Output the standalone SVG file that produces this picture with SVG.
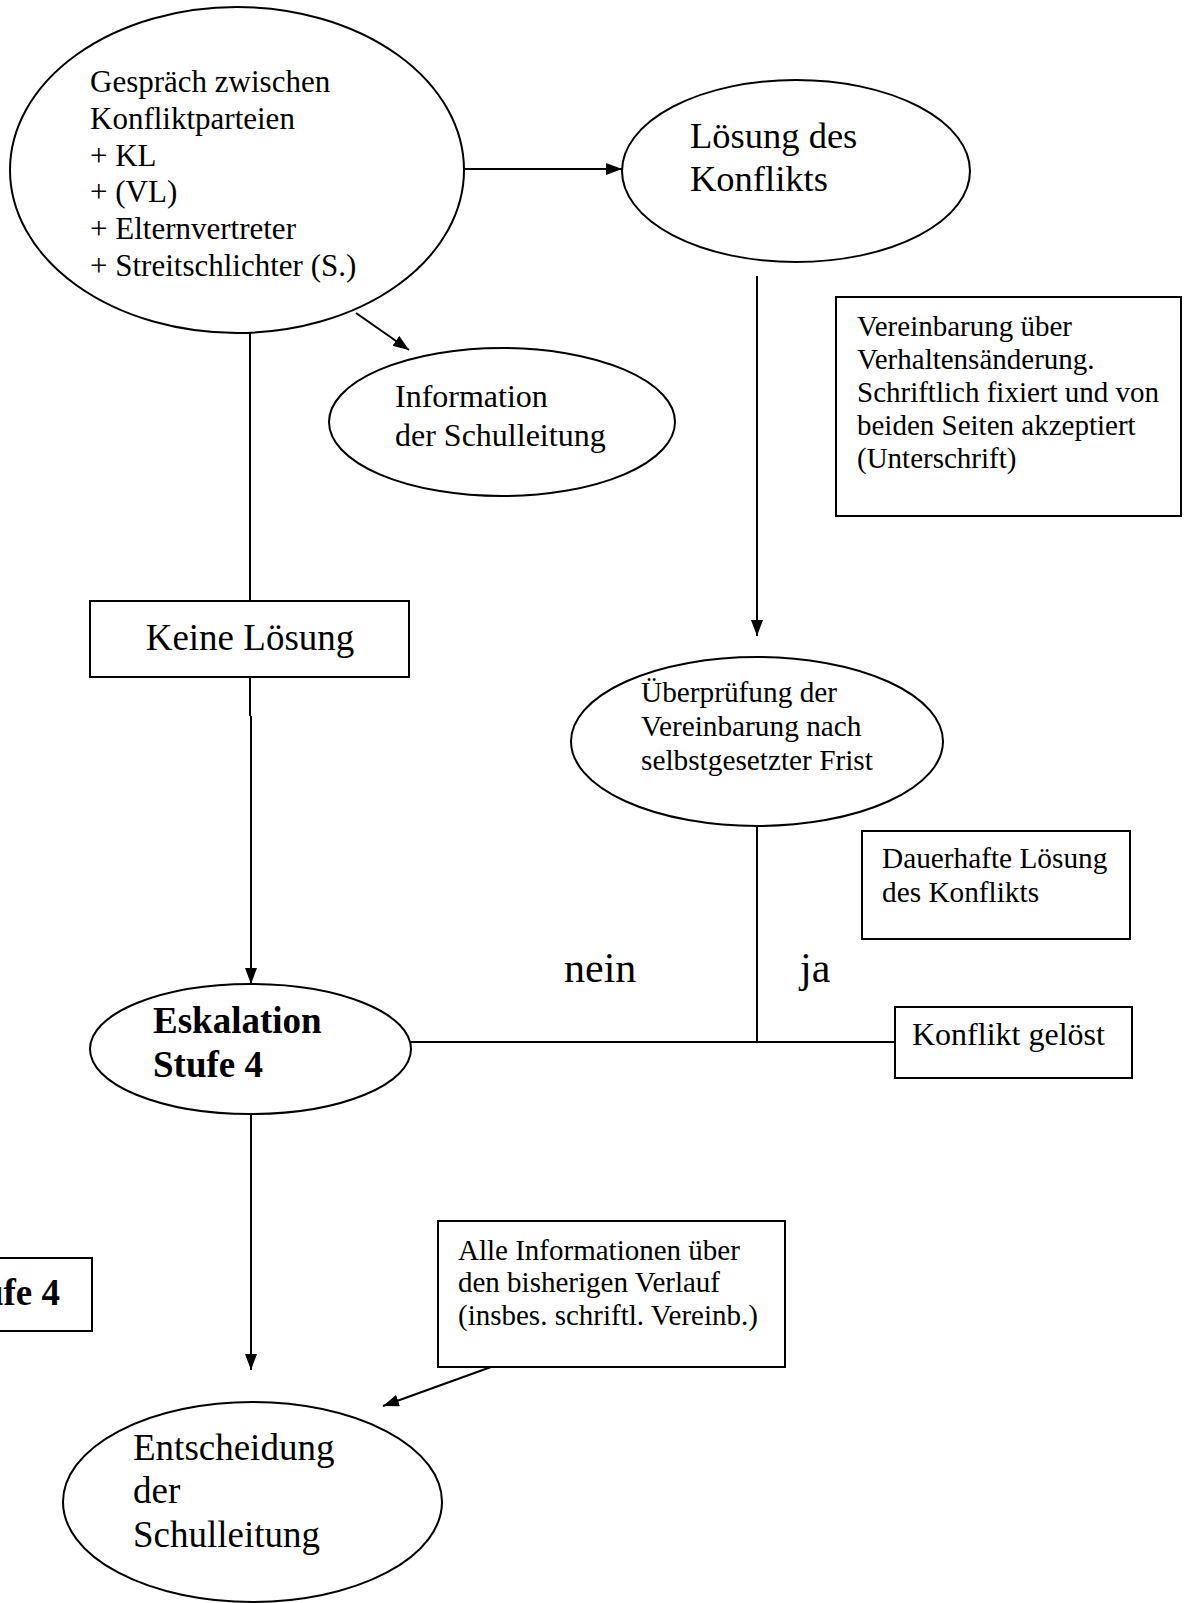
<svg xmlns="http://www.w3.org/2000/svg" width="1184" height="1603" viewBox="0 0 1184 1603">
<defs>
<marker id="arr" viewBox="0 0 16 12" refX="16" refY="6" markerWidth="16" markerHeight="12" markerUnits="userSpaceOnUse" orient="auto"><path d="M0,0 L16,6 L0,12 z" fill="#000"/></marker>
</defs>
<style>
.s{fill:#fff;stroke:#000;stroke-width:2}
.c{fill:none;stroke:#000;stroke-width:2}
text{font-family:"Liberation Serif","Times New Roman",serif;fill:#000}
.b{font-weight:bold}
</style>
<rect width="1184" height="1603" fill="#fff"/>
<g id="connectors">
<line class="c" x1="464" y1="169" x2="622" y2="169" marker-end="url(#arr)"/>
<line class="c" x1="356" y1="313" x2="409" y2="350" marker-end="url(#arr)"/>
<line class="c" x1="250" y1="333" x2="250" y2="601"/>
<line class="c" x1="250" y1="677" x2="250" y2="716"/>
<line class="c" x1="251" y1="716" x2="251" y2="984" marker-end="url(#arr)"/>
<line class="c" x1="757" y1="276" x2="757" y2="636" marker-end="url(#arr)"/>
<line class="c" x1="757" y1="826" x2="757" y2="1042"/>
<line class="c" x1="411" y1="1042" x2="895" y2="1042"/>
<line class="c" x1="251" y1="1115" x2="251" y2="1370" marker-end="url(#arr)"/>
<line class="c" x1="491" y1="1367" x2="383" y2="1406" marker-end="url(#arr)"/>
</g>
<g id="gespraech">
<ellipse class="s" cx="237" cy="170" rx="227" ry="163"/>
<text font-size="31"><tspan x="90" y="92">Gespräch zwischen</tspan><tspan x="90" y="129">Konfliktparteien</tspan><tspan x="90" y="166">+ KL</tspan><tspan x="90" y="202">+ (VL)</tspan><tspan x="90" y="239">+ Elternvertreter</tspan><tspan x="90" y="276">+ Streitschlichter (S.)</tspan></text>
</g>
<g id="loesung">
<ellipse class="s" cx="796" cy="171" rx="174" ry="91"/>
<text font-size="36.5"><tspan x="690" y="148">Lösung des</tspan><tspan x="690" y="191">Konflikts</tspan></text>
</g>
<g id="vereinbarung">
<rect class="s" x="836" y="297" width="345" height="219"/>
<text font-size="29"><tspan x="857" y="336">Vereinbarung über</tspan><tspan x="857" y="369">Verhaltensänderung.</tspan><tspan x="857" y="402">Schriftlich fixiert und von</tspan><tspan x="857" y="435">beiden Seiten akzeptiert</tspan><tspan x="857" y="468">(Unterschrift)</tspan></text>
</g>
<g id="information">
<ellipse class="s" cx="502" cy="422" rx="173" ry="74"/>
<text font-size="32"><tspan x="395" y="407">Information</tspan><tspan x="395" y="446">der Schulleitung</tspan></text>
</g>
<g id="keine">
<rect class="s" x="90" y="601" width="319" height="76"/>
<text font-size="37" x="250" y="650" text-anchor="middle">Keine Lösung</text>
</g>
<g id="ueberpruefung">
<ellipse class="s" cx="757" cy="741.5" rx="186" ry="84.5"/>
<text font-size="29.3"><tspan x="641" y="702">Überprüfung der</tspan><tspan x="641" y="736">Vereinbarung nach</tspan><tspan x="641" y="770">selbstgesetzter Frist</tspan></text>
</g>
<g id="dauerhaft">
<rect class="s" x="862" y="831" width="268" height="108"/>
<text font-size="29.3"><tspan x="882" y="868">Dauerhafte Lösung</tspan><tspan x="882" y="902">des Konflikts</tspan></text>
</g>
<g id="labels">
<text font-size="42" x="564" y="982">nein</text>
<text font-size="42" x="800" y="982">ja</text>
</g>
<g id="eskalation">
<ellipse class="s" cx="250.5" cy="1049" rx="160.5" ry="65"/>
<text class="b" font-size="37"><tspan x="153" y="1033">Eskalation</tspan><tspan x="153" y="1077">Stufe 4</tspan></text>
</g>
<g id="geloest">
<rect class="s" x="895" y="1007" width="237" height="71"/>
<text font-size="32" x="912" y="1045">Konflikt gelöst</text>
</g>
<g id="stufe4box">
<rect class="s" x="-120" y="1258" width="212" height="73"/>
<text class="b" font-size="37" x="60" y="1305" text-anchor="end">Stufe 4</text>
</g>
<g id="alleinfo">
<rect class="s" x="438" y="1221" width="347" height="146"/>
<text font-size="29"><tspan x="458" y="1260">Alle Informationen über</tspan><tspan x="458" y="1292">den bisherigen Verlauf</tspan><tspan x="458" y="1325">(insbes. schriftl. Vereinb.)</tspan></text>
</g>
<g id="entscheidung">
<ellipse class="s" cx="252.5" cy="1502" rx="189.5" ry="100"/>
<text font-size="37"><tspan x="133" y="1460">Entscheidung</tspan><tspan x="133" y="1503">der</tspan><tspan x="133" y="1547">Schulleitung</tspan></text>
</g>
</svg>
